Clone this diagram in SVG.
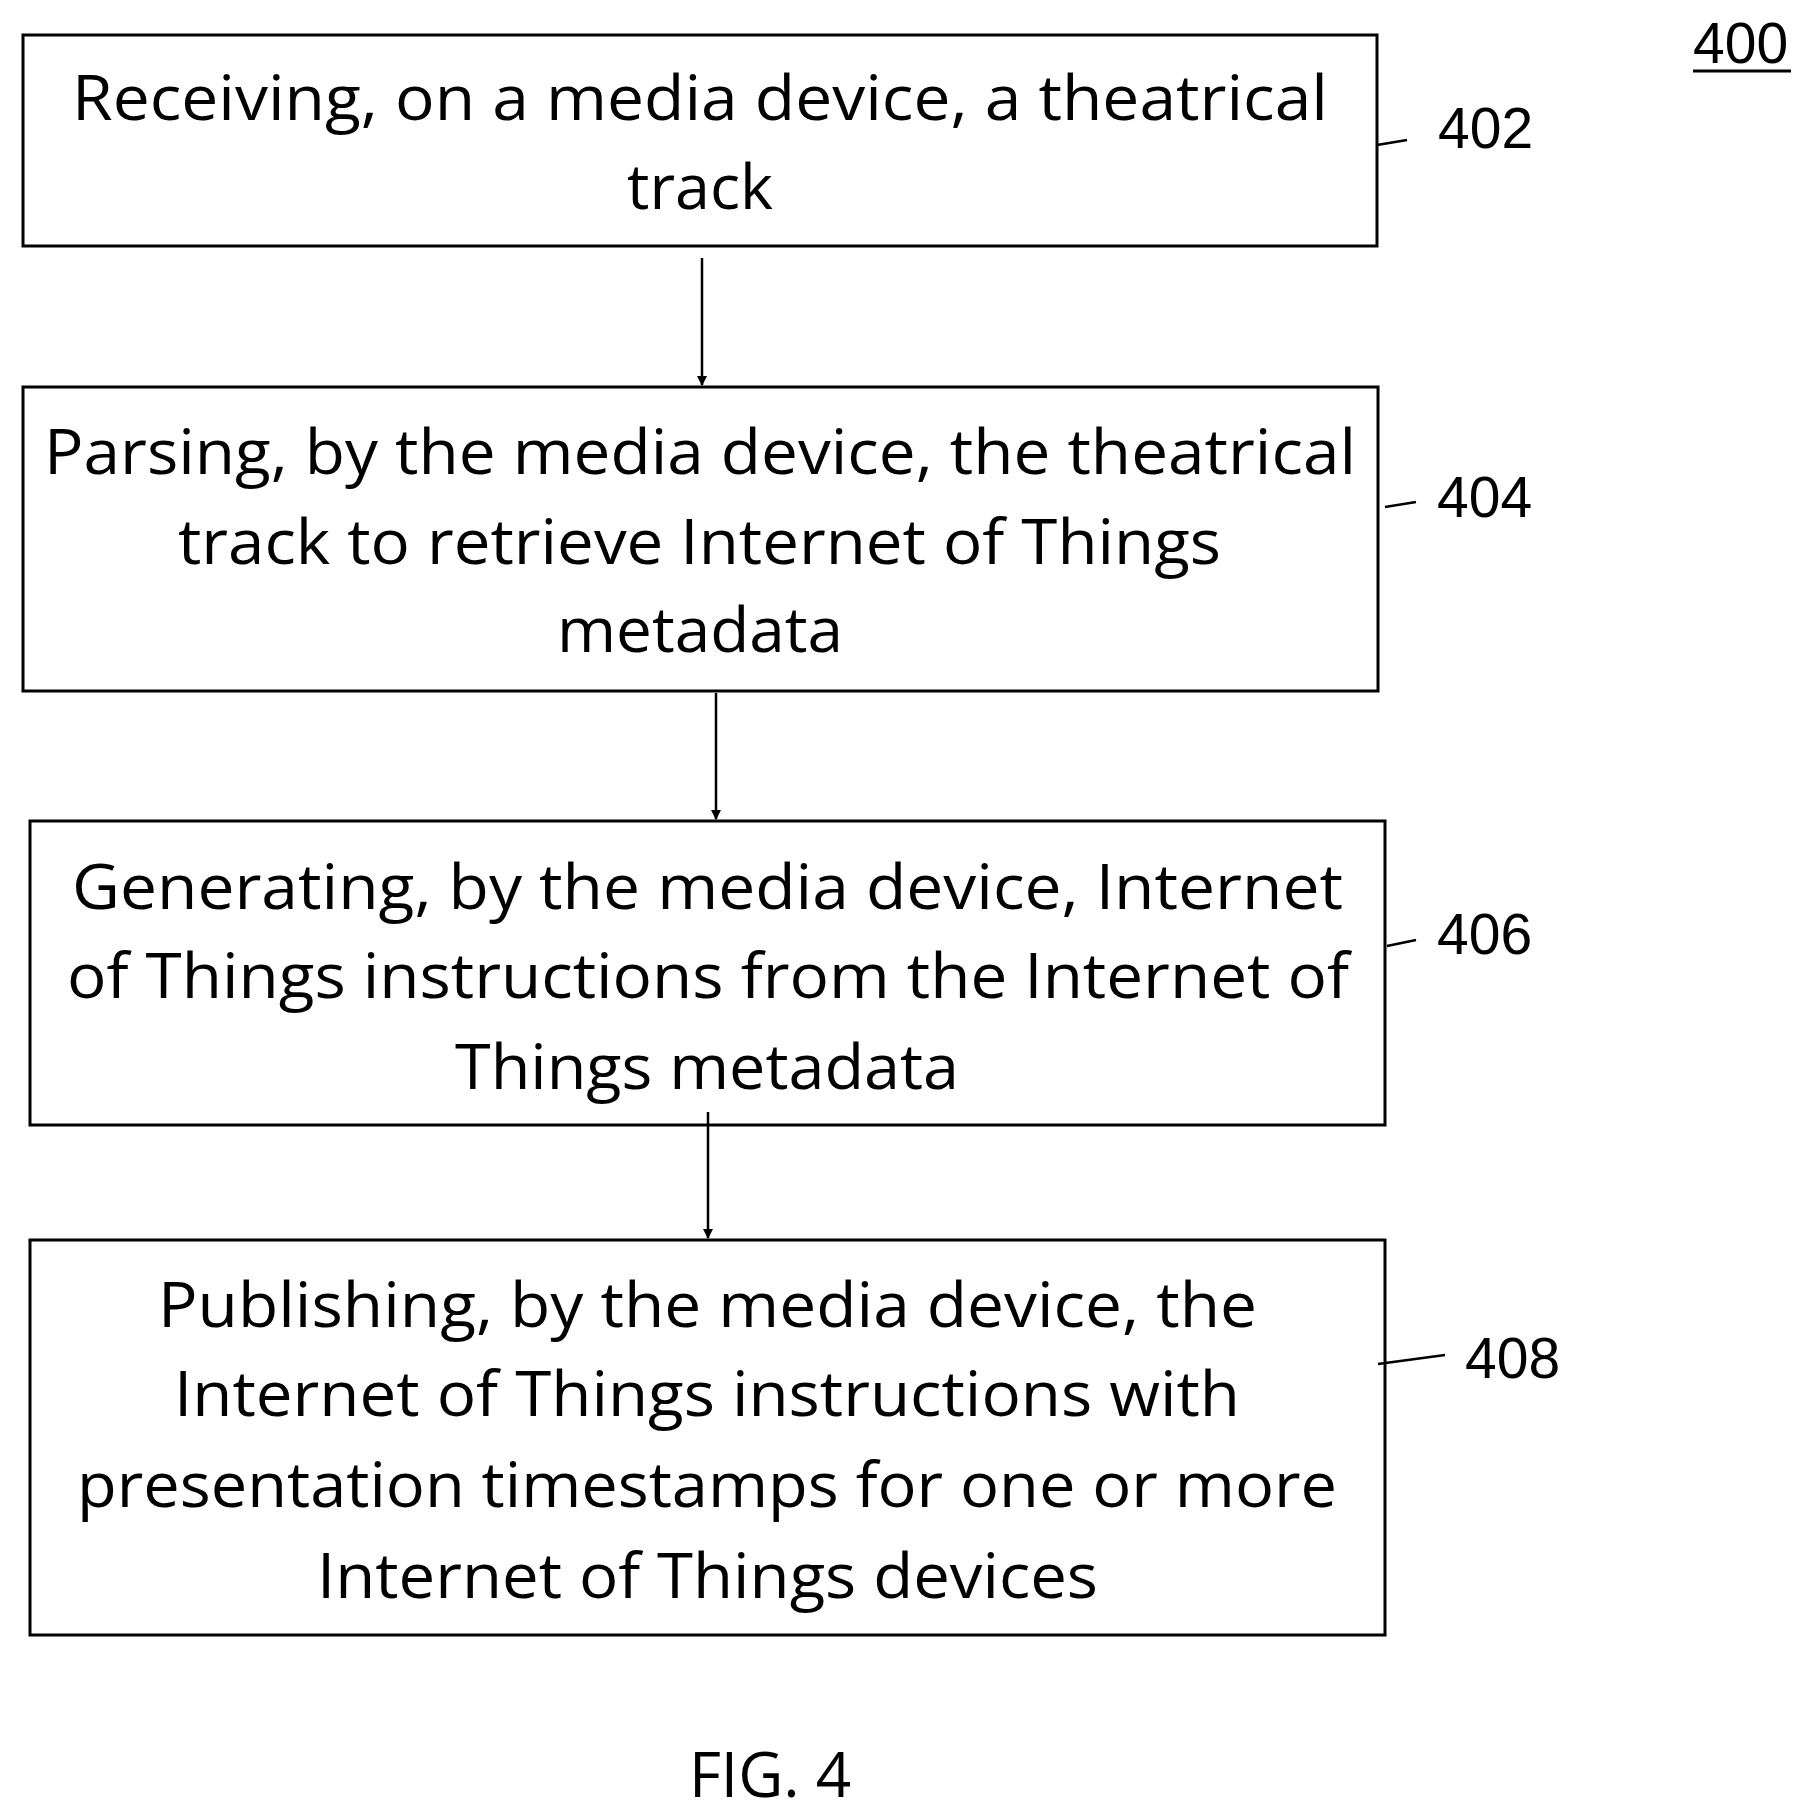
<svg xmlns="http://www.w3.org/2000/svg" width="1811" height="1817" viewBox="0 0 1811 1817">
<defs>
<style>
.b{fill:#fff;stroke:#000;stroke-width:3}
.t{font-family:"Open Sans",sans-serif;font-size:62px;fill:#000}
.n{font-family:"Liberation Sans",Arial,sans-serif;font-size:57px;fill:#000}
.l{stroke:#000;stroke-width:2.5;fill:none}
</style>
<marker id="a" markerWidth="10" markerHeight="10" refX="9" refY="5" orient="auto" markerUnits="userSpaceOnUse" viewBox="0 0 10 10"><path d="M0,0 L10,5 L0,10 z" fill="#000"/></marker>
</defs>
<rect width="1811" height="1817" fill="#fff"/>
<g id="n402"><rect class="b" x="23" y="35" width="1354" height="211"/>
<text class="t" x="72" y="120" textLength="1256" lengthAdjust="spacingAndGlyphs">Receiving, on a media device, a theatrical</text>
<text class="t" x="627" y="209" textLength="146" lengthAdjust="spacingAndGlyphs">track</text></g>
<g id="n404"><rect class="b" x="23" y="387" width="1355" height="304"/>
<text class="t" x="44" y="474" textLength="1312" lengthAdjust="spacingAndGlyphs">Parsing, by the media device, the theatrical</text>
<text class="t" x="178" y="564" textLength="1043" lengthAdjust="spacingAndGlyphs">track to retrieve Internet of Things</text>
<text class="t" x="557" y="652" textLength="286" lengthAdjust="spacingAndGlyphs">metadata</text></g>
<g id="n406"><rect class="b" x="30" y="821" width="1355" height="304"/>
<text class="t" x="72" y="909" textLength="1271" lengthAdjust="spacingAndGlyphs">Generating, by the media device, Internet</text>
<text class="t" x="67" y="998" textLength="1282" lengthAdjust="spacingAndGlyphs">of Things instructions from the Internet of</text>
<text class="t" x="455" y="1089" textLength="504" lengthAdjust="spacingAndGlyphs">Things metadata</text></g>
<g id="n408"><rect class="b" x="30" y="1240" width="1355" height="395"/>
<text class="t" x="158" y="1327" textLength="1099" lengthAdjust="spacingAndGlyphs">Publishing, by the media device, the</text>
<text class="t" x="174" y="1416" textLength="1066" lengthAdjust="spacingAndGlyphs">Internet of Things instructions with</text>
<text class="t" x="77" y="1507" textLength="1260" lengthAdjust="spacingAndGlyphs">presentation timestamps for one or more</text>
<text class="t" x="317" y="1598" textLength="781" lengthAdjust="spacingAndGlyphs">Internet of Things devices</text></g>
<g id="connectors">
<line class="l" x1="702" y1="258" x2="702" y2="385" marker-end="url(#a)"/>
<line class="l" x1="716" y1="693" x2="716" y2="819" marker-end="url(#a)"/>
<line class="l" x1="708" y1="1112" x2="708" y2="1238" marker-end="url(#a)"/>
<line class="l" x1="1377" y1="145" x2="1407" y2="140"/>
<line class="l" x1="1385" y1="507" x2="1416" y2="502"/>
<line class="l" x1="1387" y1="946" x2="1416" y2="940"/>
<line class="l" x1="1378" y1="1364" x2="1445" y2="1355"/>
</g>
<g id="labels">
<text class="n" x="1438" y="148">402</text>
<text class="n" x="1437" y="517">404</text>
<text class="n" x="1437" y="954">406</text>
<text class="n" x="1465" y="1378">408</text>
<text class="n" x="1693" y="63">400</text>
<line x1="1693" y1="71" x2="1791" y2="71" stroke="#000" stroke-width="3"/>
<text class="n" x="770" y="1797" text-anchor="middle" style="font-family:'Open Sans',sans-serif;font-size:62px">FIG. 4</text>
</g>
</svg>
